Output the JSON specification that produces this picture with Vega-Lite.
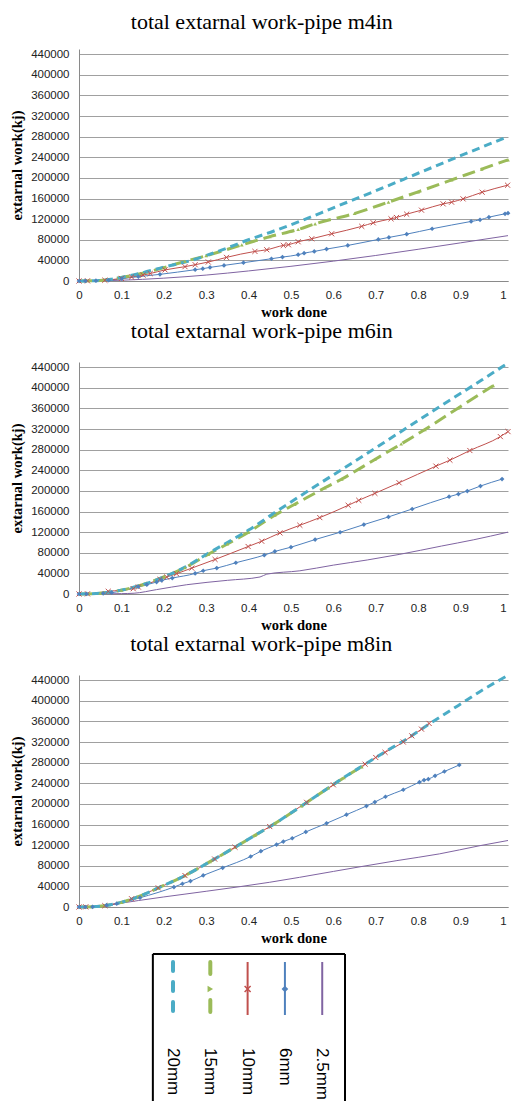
{
"$schema":"https://vega.github.io/schema/vega-lite/v6.json",
"background":"white",
"padding":{"left":9,"top":11,"right":5,"bottom":0},
"bounds":"flush",
"spacing":81,
"resolve":{"scale":{"x":"independent","y":"independent","color":"independent"}},
"config":{
 "view":{"stroke":null},
 "axis":{"labelFont":"Liberation Sans","labelFontSize":11.5,"labelColor":"#222","ticks":false,"domainColor":"#8a8a8a","gridColor":"#a0a0a0","titleFont":"Liberation Serif","titleFontSize":14.5,"titleFontWeight":"bold","titleColor":"#000","labelFlush":false,"labelOverlap":false},
 "axisX":{"labelPadding":8,"titlePadding":5},
 "axisY":{"labelPadding":10,"titlePadding":6},
 "title":{"font":"Liberation Serif","fontSize":22,"fontWeight":"normal","color":"#000","offset":14,"frame":"bounds","anchor":"middle"}
},
"datasets":{
"d":[
{"p":"m4in","s":"2.5mm","x":0,"y":0},{"p":"m4in","s":"2.5mm","x":0.05,"y":400},{"p":"m4in","s":"2.5mm","x":0.1,"y":1500},{"p":"m4in","s":"2.5mm","x":0.2,"y":5500},{"p":"m4in","s":"2.5mm","x":0.3,"y":11500},{"p":"m4in","s":"2.5mm","x":0.4,"y":19500},{"p":"m4in","s":"2.5mm","x":0.5,"y":28500},{"p":"m4in","s":"2.5mm","x":0.6,"y":38500},{"p":"m4in","s":"2.5mm","x":0.7,"y":49500},{"p":"m4in","s":"2.5mm","x":0.8,"y":61500},{"p":"m4in","s":"2.5mm","x":0.9,"y":74000},{"p":"m4in","s":"2.5mm","x":1.012,"y":88000},
{"p":"m4in","s":"6mm","x":0,"y":0},{"p":"m4in","s":"6mm","x":0.015,"y":200},{"p":"m4in","s":"6mm","x":0.04,"y":600},{"p":"m4in","s":"6mm","x":0.07,"y":1500},{"p":"m4in","s":"6mm","x":0.101,"y":4500},{"p":"m4in","s":"6mm","x":0.14,"y":8400},{"p":"m4in","s":"6mm","x":0.191,"y":12900},{"p":"m4in","s":"6mm","x":0.274,"y":21900},{"p":"m4in","s":"6mm","x":0.292,"y":23900},{"p":"m4in","s":"6mm","x":0.309,"y":26400},{"p":"m4in","s":"6mm","x":0.342,"y":30300},{"p":"m4in","s":"6mm","x":0.388,"y":35500},{"p":"m4in","s":"6mm","x":0.454,"y":43200},{"p":"m4in","s":"6mm","x":0.48,"y":46400},{"p":"m4in","s":"6mm","x":0.517,"y":51000},{"p":"m4in","s":"6mm","x":0.531,"y":54000},{"p":"m4in","s":"6mm","x":0.555,"y":57400},{"p":"m4in","s":"6mm","x":0.584,"y":61900},{"p":"m4in","s":"6mm","x":0.634,"y":69000},{"p":"m4in","s":"6mm","x":0.706,"y":80600},{"p":"m4in","s":"6mm","x":0.731,"y":84500},{"p":"m4in","s":"6mm","x":0.773,"y":90900},{"p":"m4in","s":"6mm","x":0.833,"y":101300},{"p":"m4in","s":"6mm","x":0.925,"y":115500},{"p":"m4in","s":"6mm","x":0.946,"y":118700},{"p":"m4in","s":"6mm","x":0.967,"y":123800},{"p":"m4in","s":"6mm","x":1.005,"y":130300},{"p":"m4in","s":"6mm","x":1.012,"y":131600},
{"p":"m4in","s":"10mm","x":0,"y":0},{"p":"m4in","s":"10mm","x":0.02,"y":300},{"p":"m4in","s":"10mm","x":0.061,"y":1500},{"p":"m4in","s":"10mm","x":0.1,"y":5000},{"p":"m4in","s":"10mm","x":0.124,"y":7800},{"p":"m4in","s":"10mm","x":0.151,"y":11500},{"p":"m4in","s":"10mm","x":0.168,"y":14500},{"p":"m4in","s":"10mm","x":0.203,"y":21500},{"p":"m4in","s":"10mm","x":0.25,"y":27800},{"p":"m4in","s":"10mm","x":0.274,"y":31600},{"p":"m4in","s":"10mm","x":0.305,"y":36800},{"p":"m4in","s":"10mm","x":0.348,"y":45800},{"p":"m4in","s":"10mm","x":0.415,"y":57400},{"p":"m4in","s":"10mm","x":0.443,"y":60600},{"p":"m4in","s":"10mm","x":0.482,"y":69000},{"p":"m4in","s":"10mm","x":0.494,"y":70300},{"p":"m4in","s":"10mm","x":0.517,"y":76100},{"p":"m4in","s":"10mm","x":0.549,"y":81900},{"p":"m4in","s":"10mm","x":0.596,"y":91600},{"p":"m4in","s":"10mm","x":0.667,"y":106000},{"p":"m4in","s":"10mm","x":0.694,"y":112900},{"p":"m4in","s":"10mm","x":0.736,"y":120600},{"p":"m4in","s":"10mm","x":0.749,"y":123200},{"p":"m4in","s":"10mm","x":0.773,"y":129600},{"p":"m4in","s":"10mm","x":0.808,"y":137400},{"p":"m4in","s":"10mm","x":0.859,"y":149600},{"p":"m4in","s":"10mm","x":0.879,"y":152900},{"p":"m4in","s":"10mm","x":0.906,"y":159300},{"p":"m4in","s":"10mm","x":0.951,"y":172200},{"p":"m4in","s":"10mm","x":1.011,"y":185800},
{"p":"m4in","s":"15mm","x":0,"y":0},{"p":"m4in","s":"15mm","x":0.05,"y":1000},{"p":"m4in","s":"15mm","x":0.1,"y":7000},{"p":"m4in","s":"15mm","x":0.15,"y":15000},{"p":"m4in","s":"15mm","x":0.2,"y":26000},{"p":"m4in","s":"15mm","x":0.25,"y":38000},{"p":"m4in","s":"15mm","x":0.3,"y":49000},{"p":"m4in","s":"15mm","x":0.384,"y":70000},{"p":"m4in","s":"15mm","x":0.45,"y":86000},{"p":"m4in","s":"15mm","x":0.517,"y":100000},{"p":"m4in","s":"15mm","x":0.557,"y":111000},{"p":"m4in","s":"15mm","x":0.65,"y":131000},{"p":"m4in","s":"15mm","x":0.73,"y":153000},{"p":"m4in","s":"15mm","x":0.8,"y":173000},{"p":"m4in","s":"15mm","x":0.879,"y":196000},{"p":"m4in","s":"15mm","x":0.95,"y":217000},{"p":"m4in","s":"15mm","x":1.012,"y":235000},
{"p":"m4in","s":"20mm","x":0,"y":0},{"p":"m4in","s":"20mm","x":0.05,"y":1000},{"p":"m4in","s":"20mm","x":0.1,"y":7000},{"p":"m4in","s":"20mm","x":0.15,"y":16000},{"p":"m4in","s":"20mm","x":0.2,"y":27000},{"p":"m4in","s":"20mm","x":0.265,"y":40000},{"p":"m4in","s":"20mm","x":0.33,"y":58000},{"p":"m4in","s":"20mm","x":0.4,"y":80000},{"p":"m4in","s":"20mm","x":0.46,"y":97000},{"p":"m4in","s":"20mm","x":0.525,"y":117000},{"p":"m4in","s":"20mm","x":0.6,"y":142000},{"p":"m4in","s":"20mm","x":0.7,"y":175000},{"p":"m4in","s":"20mm","x":0.8,"y":209000},{"p":"m4in","s":"20mm","x":0.9,"y":243000},{"p":"m4in","s":"20mm","x":1.012,"y":280000},
{"p":"m6in","s":"2.5mm","x":0,"y":0},{"p":"m6in","s":"2.5mm","x":0.05,"y":200},{"p":"m6in","s":"2.5mm","x":0.1,"y":700},{"p":"m6in","s":"2.5mm","x":0.13,"y":1500},{"p":"m6in","s":"2.5mm","x":0.183,"y":8500},{"p":"m6in","s":"2.5mm","x":0.254,"y":18000},{"p":"m6in","s":"2.5mm","x":0.35,"y":26500},{"p":"m6in","s":"2.5mm","x":0.427,"y":33000},{"p":"m6in","s":"2.5mm","x":0.443,"y":38500},{"p":"m6in","s":"2.5mm","x":0.521,"y":45000},{"p":"m6in","s":"2.5mm","x":0.6,"y":56000},{"p":"m6in","s":"2.5mm","x":0.68,"y":66000},{"p":"m6in","s":"2.5mm","x":0.757,"y":77000},{"p":"m6in","s":"2.5mm","x":0.855,"y":93000},{"p":"m6in","s":"2.5mm","x":0.93,"y":105000},{"p":"m6in","s":"2.5mm","x":1.012,"y":120000},
{"p":"m6in","s":"6mm","x":0,"y":0},{"p":"m6in","s":"6mm","x":0.018,"y":100},{"p":"m6in","s":"6mm","x":0.057,"y":1300},{"p":"m6in","s":"6mm","x":0.077,"y":2600},{"p":"m6in","s":"6mm","x":0.14,"y":14200},{"p":"m6in","s":"6mm","x":0.16,"y":18000},{"p":"m6in","s":"6mm","x":0.183,"y":23200},{"p":"m6in","s":"6mm","x":0.195,"y":26400},{"p":"m6in","s":"6mm","x":0.22,"y":30900},{"p":"m6in","s":"6mm","x":0.274,"y":39900},{"p":"m6in","s":"6mm","x":0.293,"y":45100},{"p":"m6in","s":"6mm","x":0.325,"y":50200},{"p":"m6in","s":"6mm","x":0.37,"y":60600},{"p":"m6in","s":"6mm","x":0.437,"y":75400},{"p":"m6in","s":"6mm","x":0.462,"y":82500},{"p":"m6in","s":"6mm","x":0.5,"y":90800},{"p":"m6in","s":"6mm","x":0.557,"y":105600},{"p":"m6in","s":"6mm","x":0.616,"y":119800},{"p":"m6in","s":"6mm","x":0.672,"y":134600},{"p":"m6in","s":"6mm","x":0.73,"y":149500},{"p":"m6in","s":"6mm","x":0.786,"y":164900},{"p":"m6in","s":"6mm","x":0.873,"y":188700},{"p":"m6in","s":"6mm","x":0.895,"y":193900},{"p":"m6in","s":"6mm","x":0.916,"y":199700},{"p":"m6in","s":"6mm","x":0.947,"y":209400},{"p":"m6in","s":"6mm","x":0.998,"y":222900},
{"p":"m6in","s":"10mm","x":0,"y":0},{"p":"m6in","s":"10mm","x":0.02,"y":300},{"p":"m6in","s":"10mm","x":0.069,"y":5200},{"p":"m6in","s":"10mm","x":0.128,"y":10300},{"p":"m6in","s":"10mm","x":0.14,"y":13500},{"p":"m6in","s":"10mm","x":0.191,"y":28300},{"p":"m6in","s":"10mm","x":0.207,"y":32900},{"p":"m6in","s":"10mm","x":0.23,"y":39300},{"p":"m6in","s":"10mm","x":0.266,"y":50200},{"p":"m6in","s":"10mm","x":0.321,"y":67000},{"p":"m6in","s":"10mm","x":0.399,"y":92100},{"p":"m6in","s":"10mm","x":0.431,"y":102400},{"p":"m6in","s":"10mm","x":0.474,"y":118500},{"p":"m6in","s":"10mm","x":0.521,"y":133300},{"p":"m6in","s":"10mm","x":0.568,"y":148200},{"p":"m6in","s":"10mm","x":0.635,"y":172000},{"p":"m6in","s":"10mm","x":0.66,"y":181700},{"p":"m6in","s":"10mm","x":0.698,"y":195200},{"p":"m6in","s":"10mm","x":0.755,"y":215800},{"p":"m6in","s":"10mm","x":0.842,"y":248000},{"p":"m6in","s":"10mm","x":0.875,"y":259600},{"p":"m6in","s":"10mm","x":0.922,"y":278300},{"p":"m6in","s":"10mm","x":0.994,"y":305300},{"p":"m6in","s":"10mm","x":1.012,"y":315000},
{"p":"m6in","s":"15mm","x":0,"y":0},{"p":"m6in","s":"15mm","x":0.05,"y":1500},{"p":"m6in","s":"15mm","x":0.1,"y":7500},{"p":"m6in","s":"15mm","x":0.15,"y":18000},{"p":"m6in","s":"15mm","x":0.2,"y":33000},{"p":"m6in","s":"15mm","x":0.25,"y":51000},{"p":"m6in","s":"15mm","x":0.305,"y":77000},{"p":"m6in","s":"15mm","x":0.35,"y":97000},{"p":"m6in","s":"15mm","x":0.4,"y":120000},{"p":"m6in","s":"15mm","x":0.462,"y":153000},{"p":"m6in","s":"15mm","x":0.509,"y":174000},{"p":"m6in","s":"15mm","x":0.58,"y":206000},{"p":"m6in","s":"15mm","x":0.62,"y":223000},{"p":"m6in","s":"15mm","x":0.698,"y":261000},{"p":"m6in","s":"15mm","x":0.76,"y":291000},{"p":"m6in","s":"15mm","x":0.816,"y":319000},{"p":"m6in","s":"15mm","x":0.895,"y":361000},{"p":"m6in","s":"15mm","x":0.977,"y":404000},
{"p":"m6in","s":"20mm","x":0,"y":0},{"p":"m6in","s":"20mm","x":0.05,"y":1500},{"p":"m6in","s":"20mm","x":0.1,"y":7500},{"p":"m6in","s":"20mm","x":0.15,"y":18000},{"p":"m6in","s":"20mm","x":0.2,"y":33000},{"p":"m6in","s":"20mm","x":0.25,"y":52000},{"p":"m6in","s":"20mm","x":0.305,"y":79000},{"p":"m6in","s":"20mm","x":0.35,"y":100000},{"p":"m6in","s":"20mm","x":0.4,"y":124000},{"p":"m6in","s":"20mm","x":0.462,"y":158000},{"p":"m6in","s":"20mm","x":0.55,"y":205000},{"p":"m6in","s":"20mm","x":0.65,"y":257000},{"p":"m6in","s":"20mm","x":0.75,"y":310000},{"p":"m6in","s":"20mm","x":0.85,"y":363000},{"p":"m6in","s":"20mm","x":0.95,"y":415000},{"p":"m6in","s":"20mm","x":1.012,"y":448000},
{"p":"m8in","s":"2.5mm","x":0,"y":0},{"p":"m8in","s":"2.5mm","x":0.05,"y":2000},{"p":"m8in","s":"2.5mm","x":0.1,"y":7500},{"p":"m8in","s":"2.5mm","x":0.14,"y":12500},{"p":"m8in","s":"2.5mm","x":0.2,"y":19500},{"p":"m8in","s":"2.5mm","x":0.25,"y":25000},{"p":"m8in","s":"2.5mm","x":0.3,"y":30500},{"p":"m8in","s":"2.5mm","x":0.38,"y":39500},{"p":"m8in","s":"2.5mm","x":0.45,"y":48000},{"p":"m8in","s":"2.5mm","x":0.52,"y":57500},{"p":"m8in","s":"2.5mm","x":0.6,"y":69000},{"p":"m8in","s":"2.5mm","x":0.663,"y":78000},{"p":"m8in","s":"2.5mm","x":0.75,"y":90000},{"p":"m8in","s":"2.5mm","x":0.85,"y":103000},{"p":"m8in","s":"2.5mm","x":0.946,"y":119000},{"p":"m8in","s":"2.5mm","x":1.012,"y":129000},
{"p":"m8in","s":"6mm","x":0,"y":0},{"p":"m8in","s":"6mm","x":0.015,"y":0},{"p":"m8in","s":"6mm","x":0.032,"y":300},{"p":"m8in","s":"6mm","x":0.065,"y":3500},{"p":"m8in","s":"6mm","x":0.089,"y":6400},{"p":"m8in","s":"6mm","x":0.144,"y":18000},{"p":"m8in","s":"6mm","x":0.224,"y":38700},{"p":"m8in","s":"6mm","x":0.244,"y":45100},{"p":"m8in","s":"6mm","x":0.263,"y":50200},{"p":"m8in","s":"6mm","x":0.293,"y":61200},{"p":"m8in","s":"6mm","x":0.339,"y":76000},{"p":"m8in","s":"6mm","x":0.405,"y":97900},{"p":"m8in","s":"6mm","x":0.429,"y":108200},{"p":"m8in","s":"6mm","x":0.466,"y":121100},{"p":"m8in","s":"6mm","x":0.482,"y":126900},{"p":"m8in","s":"6mm","x":0.503,"y":133300},{"p":"m8in","s":"6mm","x":0.535,"y":145600},{"p":"m8in","s":"6mm","x":0.584,"y":162300},{"p":"m8in","s":"6mm","x":0.631,"y":179100},{"p":"m8in","s":"6mm","x":0.678,"y":195800},{"p":"m8in","s":"6mm","x":0.698,"y":203600},{"p":"m8in","s":"6mm","x":0.723,"y":213900},{"p":"m8in","s":"6mm","x":0.765,"y":227400},{"p":"m8in","s":"6mm","x":0.803,"y":242200},{"p":"m8in","s":"6mm","x":0.814,"y":246100},{"p":"m8in","s":"6mm","x":0.824,"y":248000},{"p":"m8in","s":"6mm","x":0.84,"y":254500},{"p":"m8in","s":"6mm","x":0.862,"y":262800},{"p":"m8in","s":"6mm","x":0.897,"y":275500},
{"p":"m8in","s":"10mm","x":0,"y":0},{"p":"m8in","s":"10mm","x":0.016,"y":300},{"p":"m8in","s":"10mm","x":0.061,"y":2500},{"p":"m8in","s":"10mm","x":0.124,"y":16000},{"p":"m8in","s":"10mm","x":0.187,"y":37000},{"p":"m8in","s":"10mm","x":0.25,"y":61000},{"p":"m8in","s":"10mm","x":0.32,"y":93000},{"p":"m8in","s":"10mm","x":0.368,"y":116000},{"p":"m8in","s":"10mm","x":0.45,"y":156000},{"p":"m8in","s":"10mm","x":0.537,"y":203000},{"p":"m8in","s":"10mm","x":0.6,"y":237000},{"p":"m8in","s":"10mm","x":0.675,"y":277000},{"p":"m8in","s":"10mm","x":0.7,"y":290000},{"p":"m8in","s":"10mm","x":0.722,"y":300000},{"p":"m8in","s":"10mm","x":0.765,"y":320000},{"p":"m8in","s":"10mm","x":0.785,"y":332000},{"p":"m8in","s":"10mm","x":0.808,"y":345000},{"p":"m8in","s":"10mm","x":0.826,"y":356000},
{"p":"m8in","s":"15mm","x":0,"y":0},{"p":"m8in","s":"15mm","x":0.03,"y":500},{"p":"m8in","s":"15mm","x":0.06,"y":2500},{"p":"m8in","s":"15mm","x":0.1,"y":9000},{"p":"m8in","s":"15mm","x":0.14,"y":20000},{"p":"m8in","s":"15mm","x":0.187,"y":37000},{"p":"m8in","s":"15mm","x":0.25,"y":61000},{"p":"m8in","s":"15mm","x":0.309,"y":88000},{"p":"m8in","s":"15mm","x":0.368,"y":116000},{"p":"m8in","s":"15mm","x":0.415,"y":139000},{"p":"m8in","s":"15mm","x":0.462,"y":162000},{"p":"m8in","s":"15mm","x":0.525,"y":196000},{"p":"m8in","s":"15mm","x":0.588,"y":231000},{"p":"m8in","s":"15mm","x":0.625,"y":251000},{"p":"m8in","s":"15mm","x":0.667,"y":272000},
{"p":"m8in","s":"20mm","x":0,"y":0},{"p":"m8in","s":"20mm","x":0.03,"y":500},{"p":"m8in","s":"20mm","x":0.06,"y":2500},{"p":"m8in","s":"20mm","x":0.1,"y":9000},{"p":"m8in","s":"20mm","x":0.14,"y":20000},{"p":"m8in","s":"20mm","x":0.187,"y":37000},{"p":"m8in","s":"20mm","x":0.25,"y":61000},{"p":"m8in","s":"20mm","x":0.309,"y":88000},{"p":"m8in","s":"20mm","x":0.368,"y":116000},{"p":"m8in","s":"20mm","x":0.415,"y":139000},{"p":"m8in","s":"20mm","x":0.462,"y":162000},{"p":"m8in","s":"20mm","x":0.525,"y":196000},{"p":"m8in","s":"20mm","x":0.588,"y":231000},{"p":"m8in","s":"20mm","x":0.619,"y":248000},{"p":"m8in","s":"20mm","x":0.675,"y":277000},{"p":"m8in","s":"20mm","x":0.722,"y":301000},{"p":"m8in","s":"20mm","x":0.777,"y":328000},{"p":"m8in","s":"20mm","x":0.826,"y":355000},{"p":"m8in","s":"20mm","x":0.895,"y":391000},{"p":"m8in","s":"20mm","x":0.95,"y":420000},{"p":"m8in","s":"20mm","x":1.009,"y":448000}
],
"leg":[{"s":"20mm","i":0},{"s":"15mm","i":1},{"s":"10mm","i":2},{"s":"6mm","i":3},{"s":"2.5mm","i":4}]
},
"vconcat":[
{"width":429,"height":232,"title":"total extarnal work-pipe m4in","data":{"name":"d"},"transform":[{"filter":"datum.p === 'm4in'"}],
 "encoding":{"x":{"field":"x","type":"quantitative","scale":{"domain":[0,1.012],"nice":false,"zero":false},"axis":{"values":[0,0.1,0.2,0.3,0.4,0.5,0.6,0.7,0.8,0.9,1],"format":"~g","title":"work done","grid":false}},
  "y":{"field":"y","type":"quantitative","scale":{"domain":[0,450000],"nice":false},"axis":{"values":[0,40000,80000,120000,160000,200000,240000,280000,320000,360000,400000,440000],"format":"d","title":"extarnal work(kj)","grid":true}}},
 "layer":[
  {"transform":[{"filter":"datum.s === '2.5mm' || datum.s === '6mm' || datum.s === '10mm'"}],"mark":{"type":"line","interpolate":"monotone","strokeWidth":1},"encoding":{"color":{"field":"s","type":"nominal","scale":{"domain":["20mm","15mm","10mm","6mm","2.5mm"],"range":["#4BACC6","#9BBB59","#C0504D","#4F81BD","#8064A2"]},"legend":null}}},
  {"transform":[{"filter":"datum.s === '15mm'"}],"mark":{"type":"line","interpolate":"monotone","strokeWidth":3,"strokeDash":[13,6],"color":"#9BBB59"}},
  {"transform":[{"filter":"datum.s === '20mm'"}],"mark":{"type":"line","interpolate":"monotone","strokeWidth":3,"strokeDash":[8,5],"color":"#4BACC6"}},
  {"transform":[{"filter":"datum.s === '15mm' && datum.x > 0"}],"mark":{"type":"point","shape":"triangle-up","filled":true,"size":14,"color":"#9BBB59","opacity":1}},
  {"transform":[{"filter":"datum.s === '10mm'"}],"mark":{"type":"point","shape":"M-1,-1L1,1M-1,1L1,-1","filled":false,"size":26,"strokeWidth":1,"color":"#C0504D","opacity":1}},
  {"transform":[{"filter":"datum.s === '6mm'"}],"mark":{"type":"point","shape":"diamond","filled":true,"size":22,"color":"#4F81BD","opacity":1}}
 ]},
{"width":429,"height":232,"title":"total extarnal work-pipe m6in","data":{"name":"d"},"transform":[{"filter":"datum.p === 'm6in'"}],
 "encoding":{"x":{"field":"x","type":"quantitative","scale":{"domain":[0,1.012],"nice":false,"zero":false},"axis":{"values":[0,0.1,0.2,0.3,0.4,0.5,0.6,0.7,0.8,0.9,1],"format":"~g","title":"work done","grid":false}},
  "y":{"field":"y","type":"quantitative","scale":{"domain":[0,450000],"nice":false},"axis":{"values":[0,40000,80000,120000,160000,200000,240000,280000,320000,360000,400000,440000],"format":"d","title":"extarnal work(kj)","grid":true}}},
 "layer":[
  {"transform":[{"filter":"datum.s === '2.5mm' || datum.s === '6mm' || datum.s === '10mm'"}],"mark":{"type":"line","interpolate":"monotone","strokeWidth":1},"encoding":{"color":{"field":"s","type":"nominal","scale":{"domain":["20mm","15mm","10mm","6mm","2.5mm"],"range":["#4BACC6","#9BBB59","#C0504D","#4F81BD","#8064A2"]},"legend":null}}},
  {"transform":[{"filter":"datum.s === '15mm'"}],"mark":{"type":"line","interpolate":"monotone","strokeWidth":3,"strokeDash":[13,6],"color":"#9BBB59"}},
  {"transform":[{"filter":"datum.s === '20mm'"}],"mark":{"type":"line","interpolate":"monotone","strokeWidth":3,"strokeDash":[8,5],"color":"#4BACC6"}},
  {"transform":[{"filter":"datum.s === '15mm' && datum.x > 0"}],"mark":{"type":"point","shape":"triangle-up","filled":true,"size":14,"color":"#9BBB59","opacity":1}},
  {"transform":[{"filter":"datum.s === '10mm'"}],"mark":{"type":"point","shape":"M-1,-1L1,1M-1,1L1,-1","filled":false,"size":26,"strokeWidth":1,"color":"#C0504D","opacity":1}},
  {"transform":[{"filter":"datum.s === '6mm'"}],"mark":{"type":"point","shape":"diamond","filled":true,"size":22,"color":"#4F81BD","opacity":1}}
 ]},
{"width":429,"height":232,"title":"total extarnal work-pipe m8in","data":{"name":"d"},"transform":[{"filter":"datum.p === 'm8in'"}],
 "encoding":{"x":{"field":"x","type":"quantitative","scale":{"domain":[0,1.012],"nice":false,"zero":false},"axis":{"values":[0,0.1,0.2,0.3,0.4,0.5,0.6,0.7,0.8,0.9,1],"format":"~g","title":"work done","grid":false}},
  "y":{"field":"y","type":"quantitative","scale":{"domain":[0,450000],"nice":false},"axis":{"values":[0,40000,80000,120000,160000,200000,240000,280000,320000,360000,400000,440000],"format":"d","title":"extarnal work(kj)","grid":true}}},
 "layer":[
  {"transform":[{"filter":"datum.s === '2.5mm' || datum.s === '6mm' || datum.s === '10mm'"}],"mark":{"type":"line","interpolate":"monotone","strokeWidth":1},"encoding":{"color":{"field":"s","type":"nominal","scale":{"domain":["20mm","15mm","10mm","6mm","2.5mm"],"range":["#4BACC6","#9BBB59","#C0504D","#4F81BD","#8064A2"]},"legend":null}}},
  {"transform":[{"filter":"datum.s === '15mm'"}],"mark":{"type":"line","interpolate":"monotone","strokeWidth":3,"strokeDash":[13,6],"color":"#9BBB59"}},
  {"transform":[{"filter":"datum.s === '20mm'"}],"mark":{"type":"line","interpolate":"monotone","strokeWidth":3,"strokeDash":[8,5],"color":"#4BACC6"}},
  {"transform":[{"filter":"datum.s === '15mm' && datum.x > 0"}],"mark":{"type":"point","shape":"triangle-up","filled":true,"size":14,"color":"#9BBB59","opacity":1}},
  {"transform":[{"filter":"datum.s === '10mm'"}],"mark":{"type":"point","shape":"M-1,-1L1,1M-1,1L1,-1","filled":false,"size":26,"strokeWidth":1,"color":"#C0504D","opacity":1}},
  {"transform":[{"filter":"datum.s === '6mm'"}],"mark":{"type":"point","shape":"diamond","filled":true,"size":22,"color":"#4F81BD","opacity":1}}
 ]},
{"width":429,"height":100,"data":{"name":"leg"},
 "encoding":{"x":{"field":"i","type":"quantitative","scale":{"domain":[-2.52,8.98],"nice":false,"zero":false},"axis":null}},
 "layer":[
  {"transform":[{"filter":"datum.i === 0"}],"mark":{"type":"rule","color":"#000","strokeWidth":2},"encoding":{"x":{"datum":-0.54},"x2":{"datum":4.61},"y":{"datum":134,"scale":{"domain":[0,100],"nice":false,"zero":false},"axis":null}}},
  {"transform":[{"filter":"datum.i === 0"}],"mark":{"type":"rule","color":"#000","strokeWidth":2},"encoding":{"x":{"datum":-0.54},"y":{"datum":134,"axis":null},"y2":{"datum":-13}}},
  {"transform":[{"filter":"datum.i === 0"}],"mark":{"type":"rule","color":"#000","strokeWidth":2},"encoding":{"x":{"datum":4.61},"y":{"datum":134,"axis":null},"y2":{"datum":-13}}},
  {"transform":[{"filter":"datum.s === '20mm'"}],"mark":{"type":"rule","color":"#4BACC6","strokeWidth":4,"strokeDash":[9,11],"strokeCap":"round"},"encoding":{"y":{"datum":126,"axis":null},"y2":{"datum":73}}},
  {"transform":[{"filter":"datum.s === '15mm'"}],"mark":{"type":"rule","color":"#9BBB59","strokeWidth":4,"strokeDash":[12,26],"strokeCap":"round"},"encoding":{"y":{"datum":126,"axis":null},"y2":{"datum":73}}},
  {"transform":[{"filter":"datum.i >= 2"}],"mark":{"type":"rule","strokeWidth":2},"encoding":{"y":{"datum":126,"axis":null},"y2":{"datum":73},"color":{"field":"s","type":"nominal","scale":{"domain":["20mm","15mm","10mm","6mm","2.5mm"],"range":["#4BACC6","#9BBB59","#C0504D","#4F81BD","#8064A2"]},"legend":null}}},
  {"transform":[{"filter":"datum.s === '15mm'"}],"mark":{"type":"point","shape":"triangle-right","filled":true,"size":40,"color":"#9BBB59","opacity":1},"encoding":{"y":{"datum":99,"axis":null}}},
  {"transform":[{"filter":"datum.s === '10mm'"}],"mark":{"type":"point","shape":"M-1,-1L1,1M-1,1L1,-1","filled":false,"size":36,"strokeWidth":1.5,"color":"#C0504D","opacity":1},"encoding":{"y":{"datum":99,"axis":null}}},
  {"transform":[{"filter":"datum.s === '6mm'"}],"mark":{"type":"point","shape":"diamond","filled":true,"size":45,"color":"#4F81BD","opacity":1},"encoding":{"y":{"datum":99,"axis":null}}},
  {"mark":{"type":"text","angle":90,"align":"left","baseline":"middle","font":"Liberation Sans","fontSize":17,"color":"#000"},"encoding":{"text":{"field":"s"},"y":{"datum":40,"axis":null}}}
 ]}
]
}
